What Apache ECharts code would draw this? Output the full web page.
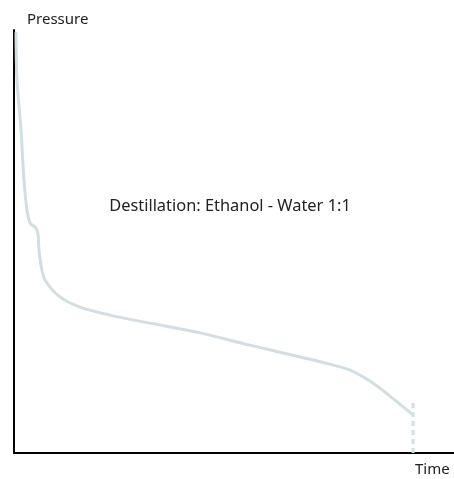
<!DOCTYPE html>
<html>
<head>
<meta charset="utf-8">
<script src="https://cdn.jsdelivr.net/npm/echarts@6/dist/echarts.min.js"></script>
<style>html,body{margin:0;padding:0;background:#fff;}#c{width:454px;height:479px;}</style>
</head>
<body>
<div id="c"></div>
<script>
var titleText = 'Destillation: Ethanol - Water 1:1';
var xName = 'Time';
var yName = 'Pressure';
var timeValues = [0.45, 0.68, 1.59, 2.27, 2.95, 3.64, 4.32, 5.0, 5.45, 5.68, 6.14, 7.05, 10.45, 15.0, 21.8, 30.9, 42.3, 53.6, 65.0, 71.8, 76.4, 80.9, 85.5, 90.7];
var pressureValues = [99.5, 88.2, 76.4, 64.5, 57.4, 54.4, 53.7, 53.2, 51.8, 48.0, 44.4, 40.9, 36.9, 34.5, 32.6, 30.7, 28.4, 25.5, 22.7, 21.0, 19.6, 17.0, 13.4, 9.0];
var endTime = [90.7, 90.7];
var endPressure = [11.8, 0];

var curve = timeValues.map(function (t, i) { return [t, pressureValues[i]]; });
var endLine = endTime.map(function (t, i) { return [t, endPressure[i]]; });

var chart = echarts.init(document.getElementById('c'));
var font = 'Noto Sans';
chart.setOption({
  animation: false,
  backgroundColor: '#fff',
  textStyle: { fontFamily: font },
  title: {
    text: titleText,
    left: 225, top: 193, textAlign: 'center',
    textStyle: { fontFamily: font, fontSize: 16.4, fontWeight: 'normal', color: '#222' }
  },
  grid: { left: 14, right: 0, top: 30, bottom: 26 },
  xAxis: {
    type: 'value', min: 0, max: 100,
    name: xName, nameLocation: 'end', nameGap: -39,
    nameTextStyle: { fontFamily: font, fontSize: 15, color: '#222', align: 'left', verticalAlign: 'top', padding: [9, 0, 0, 0] },
    axisLine: { show: true, lineStyle: { color: '#000', width: 2 } },
    axisTick: { show: false }, axisLabel: { show: false }, splitLine: { show: false }
  },
  yAxis: {
    type: 'value', min: 0, max: 100,
    name: yName, nameLocation: 'end', nameGap: 3,
    nameTextStyle: { fontFamily: font, fontSize: 15, color: '#222', align: 'left', padding: [0, 0, 0, 13] },
    axisLine: { show: true, lineStyle: { color: '#000', width: 2 } },
    axisTick: { show: false }, axisLabel: { show: false }, splitLine: { show: false }
  },
  series: [
    {
      type: 'line', data: curve, smooth: 0.3, symbol: 'none',
      lineStyle: { color: '#d3dde4', width: 3 }
    },
    {
      type: 'line', data: endLine, symbol: 'none',
      lineStyle: { color: '#d3dde4', width: 3, type: [5, 4] }
    }
  ]
});
</script>
</body>
</html>
